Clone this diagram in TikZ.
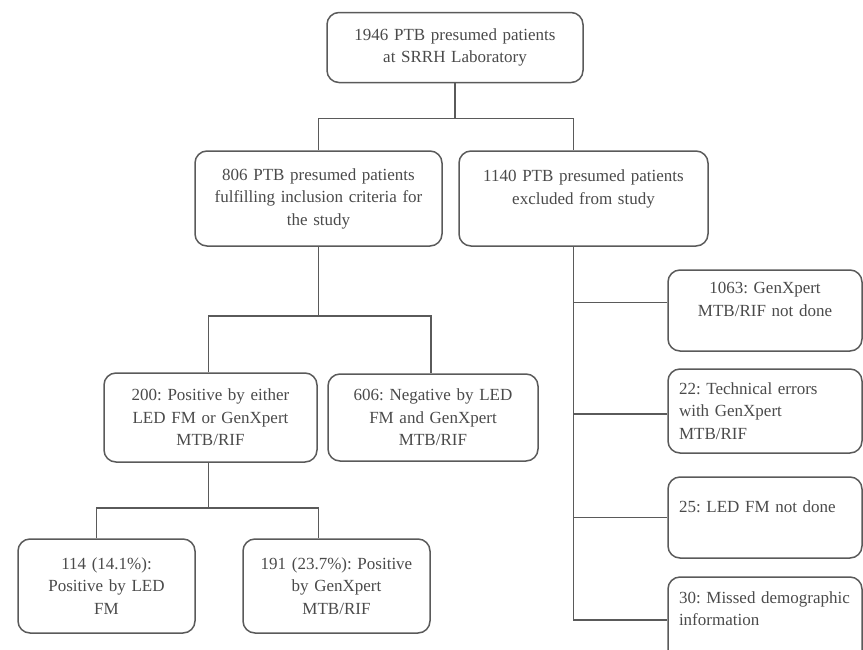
\documentclass[tikz,border=0pt]{standalone}
\usepackage{fontspec}
\setmainfont{Liberation Serif}
\definecolor{edge}{HTML}{5A5A5A}
\definecolor{ink}{HTML}{4A4A4A}
\frenchspacing

\begin{document}
\begin{tikzpicture}[x=1pt, y=-1pt,
	box/.style={draw=edge, line width=1.5pt, rounded corners=12pt, text=ink, align=center,
		inner sep=6pt, font=\fontsize{17}{22.5}\selectfont},
	sidebox/.style={box, align=left, inner xsep=11pt, minimum width=194pt, text width=172pt},
	link/.style={draw=edge, line width=1.5pt}]
	\useasboundingbox (0,0) rectangle (863,649);
	\clip (0,0) rectangle (863,649);
	
	% caixa inicial
	\node [box, minimum width=256pt, minimum height=70pt, text width=240pt] (top) at (455,47.5)
		{1946 PTB presumed patients\\at SRRH Laboratory};
	
	% incluidos e excluidos
	\node [box, minimum width=247pt, minimum height=95pt, text width=235pt] (b806) at (318.5,198.5)
		{806 PTB presumed patients\\fulfilling inclusion criteria for\\the study};
	\node [box, minimum width=249pt, minimum height=95pt, text width=237pt] (b1140) at (583.5,198.5)
		{1140 PTB presumed patients\\excluded from study\\\mbox{}};
	
	% resultados
	\node [box, minimum width=213pt, minimum height=89pt, text width=200pt] (b200) at (210.5,417.5)
		{200: Positive by either\\LED FM or GenXpert\\MTB/RIF};
	\node [box, minimum width=210pt, minimum height=87pt, text width=198pt] (b606) at (433,417.5)
		{606: Negative by LED\\FM and GenXpert\\MTB/RIF};
	\node [box, minimum width=177pt, minimum height=94pt, text width=165pt] (b114) at (106.5,586)
		{114 (14.1\%):\\Positive by LED\\FM};
	\node [box, minimum width=187pt, minimum height=94pt, text width=175pt] (b191) at (336.5,586)
		{191 (23.7\%): Positive\\by GenXpert\\MTB/RIF};
	
	% motivos de exclusao
	\node [sidebox, align=center, minimum height=81pt] (r1063) at (765,310.5)
		{1063: GenXpert\\MTB/RIF not done\\\mbox{}};
	\node [sidebox, minimum height=84pt] (r22) at (765,411)
		{22: Technical errors\\with GenXpert\\MTB/RIF};
	\node [sidebox, minimum height=81pt] (r25) at (765,517.5)
		{25: LED FM not done\\\mbox{}};
	\node [sidebox, minimum height=86pt] (r30) at (765,620)
		{30: Missed demographic\\information\\\mbox{}};
	
	% ligacoes
	\draw [link] (top.south) -- ++(0,35) coordinate (j1);
	\draw [link] (b806.north) |- (j1) -| ([xshift=-10pt]b1140.north);
	\draw [link] (b806.south) -- ++(0,69) coordinate (j2);
	\draw [link] ([xshift=-2pt]b200.north) |- (j2) -| ([xshift=-2pt]b606.north);
	\draw [link] ([xshift=-2pt]b200.south) -- ++(0,45) coordinate (j3);
	\draw [link] ([xshift=-10pt]b114.north) |- (j3) -| ([xshift=-18pt]b191.north);
	
	\coordinate (trunk) at ([xshift=-10pt]b1140.south);
	\draw [link] (trunk) |- (r30.west);
	\draw [link] ([yshift=8pt]r1063.west) -- ([yshift=8pt]r1063.west -| trunk);
	\draw [link] ([yshift=-3pt]r22.west) -- ([yshift=-3pt]r22.west -| trunk);
	\draw [link] (r25.west) -- (r25.west -| trunk);
\end{tikzpicture}
\end{document}
